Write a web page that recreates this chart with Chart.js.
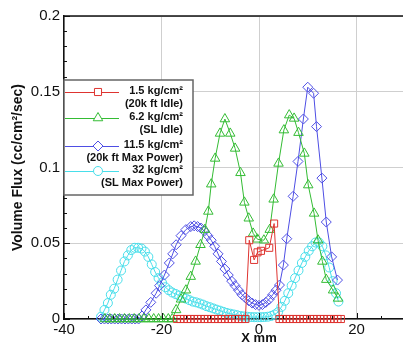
<!DOCTYPE html>
<html lang="en">
<head>
    <meta charset="UTF-8">
    <title>Volume Flux vs X</title>
    <script src="https://cdn.jsdelivr.net/npm/chart.js"></script>
    <style>
        html, body {
            margin: 0;
            padding: 0;
            overflow: hidden;
            background: #fff;
        }
        #flux {
            position: absolute;
            left: 0;
            top: 0;
        }
    </style>
</head>
<body>
    <canvas id="flux" width="470" height="345"></canvas>

    <script>
        // 1.5 kg/cm2 (20k ft Idle)
        const redX = [-16.8, -16.1, -15.4, -14.7, -14.0, -13.3, -12.6, -11.9, -11.2, -10.5, -9.8, -9.1, -8.4, -7.7, -7.0, -6.3, -5.6, -4.9, -4.2, -3.5, -2.8,
            -2.0, -1.0, -0.3, 0.4, 2.1, 3.1,
            4.2, 4.9, 5.6, 6.3, 7.0, 7.7, 8.4, 9.1, 9.8, 10.5, 11.2, 11.9, 12.6, 13.3, 14.0, 14.7, 15.4, 16.1, 16.8];
        const redY = [0, 0, 0, 0, 0, 0, 0, 0, 0, 0, 0, 0, 0, 0, 0, 0, 0, 0, 0, 0, 0,
            0.052, 0.039, 0.044, 0.045, 0.047, 0.063,
            0, 0, 0, 0, 0, 0, 0, 0, 0, 0, 0, 0, 0, 0, 0, 0, 0, 0, 0];

        // 6.2 kg/cm2 (SL Idle)
        const greenX = [-31.6, -30.6, -29.6, -28.6, -27.6, -26.6, -25.6, -24.6, -23.6, -22.6, -21.6, -20.6, -19.6, -18.6, -17.8,
            -17.0, -16.0, -15.0, -14.0, -13.0, -12.0, -11.1, -10.4, -9.8, -9.0, -8.0, -7.0, -5.9, -4.9, -3.8, -3.0, -2.1, -1.2, -0.3,
            1.0, 2.2, 3.0, 4.0, 5.1, 6.2, 7.2, 8.1, 9.3, 10.1, 11.3, 12.1, 13.0, 13.8, 15.2, 16.2];
        const greenY = [0, 0, 0, 0, 0, 0, 0, 0, 0, 0, 0, 0, 0, 0, 0,
            0.006, 0.013, 0.019, 0.028, 0.038, 0.049, 0.059, 0.071, 0.089, 0.106, 0.1225, 0.132, 0.1225, 0.1126, 0.0965, 0.077, 0.0665, 0.0565, 0.0526,
            0.052, 0.059, 0.079, 0.1027, 0.1247, 0.1346, 0.1324, 0.123, 0.1093, 0.0884, 0.0697, 0.052, 0.038, 0.026, 0.019, 0.0136];

        // 11.5 kg/cm2 (20k ft Max Power)
        const blueX = [-32.4, -31.7, -31.0, -30.3, -29.6, -28.9, -28.2, -27.5, -26.8, -26.1, -25.4, -24.7,
            -24.0, -23.2, -22.2, -21.1, -20.4, -19.4, -18.4, -17.7, -17.0, -16.0, -15.0, -14.0, -13.3, -12.6, -11.9, -11.2, -10.5,
            -9.8, -9.1, -8.4, -7.7, -7.0, -6.3, -5.6, -4.9, -4.2, -3.5, -2.8, -2.1, -1.4, -0.7, 0.0, 0.7, 1.4, 2.1, 2.8, 3.5, 4.2,
            5.0, 5.7, 7.0, 8.0, 9.1, 10.0, 11.2, 11.8, 12.9, 13.8, 14.9, 16.1];
        const blueY = [0, 0, 0, 0, 0, 0, 0, 0, 0, 0, 0, 0,
            0.002, 0.006, 0.011, 0.017, 0.022, 0.029, 0.037, 0.043, 0.049, 0.055, 0.059, 0.061, 0.0615, 0.061, 0.06, 0.058, 0.055,
            0.052, 0.048, 0.043, 0.038, 0.033, 0.029, 0.025, 0.022, 0.019, 0.016, 0.014, 0.012, 0.0105, 0.0095, 0.009, 0.0095, 0.011, 0.013, 0.016, 0.019, 0.0224,
            0.0356, 0.053, 0.081, 0.104, 0.132, 0.153, 0.149, 0.127, 0.093, 0.064, 0.041, 0.0257];

        // 32 kg/cm2 (SL Max Power)
        const cyanX = [-32.4, -31.7, -31.0, -30.4, -29.7, -29.0, -28.3, -27.6, -26.9, -26.2, -25.5, -24.8, -24.1, -23.4, -22.7,
            -22.0, -21.3, -20.6, -19.9, -19.2, -18.5, -17.8, -17.1, -16.4, -15.7, -15.0, -14.3, -13.6, -12.9, -12.2, -11.5,
            -10.8, -10.1, -9.4, -8.7, -8.0, -7.3, -6.6, -5.9, -5.2, -4.5, -3.8, -3.1, -2.4, -1.7, -1.0, -0.3, 0.4, 1.1, 1.8,
            2.5, 3.2, 3.9, 4.6, 5.3, 6.0, 6.7, 7.4, 8.1, 8.8, 9.5, 10.2, 10.9, 11.6, 12.3, 13.0, 13.7, 14.4, 15.1, 15.8, 16.3];
        const cyanY = [0.0015, 0.006, 0.0105, 0.016, 0.02, 0.026, 0.032, 0.038, 0.042, 0.0455, 0.047, 0.047, 0.0465, 0.0445, 0.041,
            0.036, 0.031, 0.027, 0.024, 0.021, 0.019, 0.0175, 0.0165, 0.0155, 0.0145, 0.0135, 0.0125, 0.0115, 0.011, 0.0103, 0.0095,
            0.0085, 0.0078, 0.007, 0.0062, 0.0055, 0.0047, 0.004, 0.0035, 0.003, 0.0025, 0.002, 0.0017, 0.0015, 0.0013, 0.0012, 0.0012, 0.0012, 0.0013, 0.0015,
            0.002, 0.003, 0.0045, 0.008, 0.012, 0.017, 0.022, 0.027, 0.032, 0.037, 0.041, 0.045, 0.048, 0.0505, 0.0505, 0.048, 0.042, 0.034, 0.025, 0.017, 0.0115];

        const xTicks = [-40, -20, 0, 20, 40];
        const yTicks = [0, 0.05, 0.1, 0.15, 0.2];

        const series = [
            { label: ['1.5 kg/cm\u00B2', '(20k ft Idle)'], xs: redX, ys: redY, color: 'rgb(222, 52, 48)', style: 'rect', radius: 5 },
            { label: ['6.2 kg/cm\u00B2', '(SL Idle)'], xs: greenX, ys: greenY, color: 'rgb(52, 188, 52)', style: 'triangle', radius: 5.5 },
            { label: ['11.5 kg/cm\u00B2', '(20k ft Max Power)'], xs: blueX, ys: blueY, color: 'rgb(78, 78, 228)', style: 'rectRot', radius: 5 },
            { label: ['32 kg/cm\u00B2', '(SL Max Power)'], xs: cyanX, ys: cyanY, color: 'rgb(72, 222, 234)', style: 'circle', radius: 4.5 }
        ];

        const FONT = '"Liberation Sans", Arial, sans-serif';

        // border, inward ticks and the boxed legend
        const framePlugin = {
            id: 'frame',
            afterDatasetsDraw(chart) {
                const { ctx, chartArea: a, scales } = chart;
                ctx.save();
                ctx.strokeStyle = '#111';
                ctx.lineWidth = 1.5;
                ctx.beginPath();
                ctx.moveTo(a.left, a.top);
                ctx.lineTo(a.right, a.top);
                ctx.stroke();

                ctx.lineWidth = 1;
                for (let v = 0; v <= 20; v++) {
                    const y = Math.round(scales.y.getPixelForValue(v / 100)) + 0.5;
                    const len = v % 5 === 0 ? 6 : 3;
                    ctx.beginPath();
                    ctx.moveTo(a.left, y);
                    ctx.lineTo(a.left + len, y);
                    ctx.stroke();
                }
                for (let v = -40; v <= 40; v += 5) {
                    const x = Math.round(scales.x.getPixelForValue(v)) + 0.5;
                    const len = v % 20 === 0 ? 6 : 3;
                    ctx.beginPath();
                    ctx.moveTo(x, a.bottom);
                    ctx.lineTo(x, a.bottom - len);
                    ctx.stroke();
                }

                // legend
                const box = { x: a.left, y: 80, w: 129, h: 115 };
                ctx.fillStyle = '#fff';
                ctx.fillRect(box.x, box.y, box.w, box.h);
                ctx.strokeStyle = '#666';
                ctx.lineWidth = 1.5;
                ctx.strokeRect(box.x, box.y, box.w, box.h);

                const rows = [92, 118, 146, 171];
                ctx.textAlign = 'right';
                ctx.textBaseline = 'middle';
                series.forEach((s, i) => {
                    const y = rows[i];
                    ctx.strokeStyle = s.color;
                    ctx.lineWidth = 1;
                    ctx.beginPath();
                    ctx.moveTo(box.x + 1, y + 0.5);
                    ctx.lineTo(box.x + 55, y + 0.5);
                    ctx.stroke();
                    ctx.fillStyle = '#fff';
                    Chart.helpers.drawPoint(ctx, {
                        pointStyle: s.style,
                        radius: s.radius,
                        rotation: 0,
                        borderWidth: 1
                    }, box.x + 34, y);
                    ctx.fillStyle = '#111';
                    ctx.font = 'bold 11px ' + FONT;
                    ctx.fillText(s.label[0], box.x + 119, y - 1);
                    ctx.fillText(s.label[1], box.x + 119, y + 12);
                });
                ctx.restore();
            }
        };

        const ctx = document.getElementById('flux').getContext('2d');
        new Chart(ctx, {
            type: 'scatter',
            data: {
                datasets: series.map(s => ({
                    label: s.label.join(' '),
                    data: s.xs.map((x, i) => ({ x: x, y: s.ys[i] })),
                    showLine: true,
                    borderColor: s.color,
                    backgroundColor: 'rgba(0,0,0,0)',
                    borderWidth: 1,
                    pointStyle: s.style,
                    pointRadius: s.radius,
                    pointBorderColor: s.color,
                    pointBackgroundColor: 'rgba(0,0,0,0)',
                    pointBorderWidth: 1,
                    clip: false
                }))
            },
            options: {
                responsive: false,
                animation: false,
                layout: { padding: { top: 16, right: 16, left: 0, bottom: 0 } },
                plugins: {
                    legend: { display: false },
                    tooltip: { enabled: false }
                },
                scales: {
                    x: {
                        type: 'linear',
                        min: -40,
                        max: 40,
                        afterFit: s => { s.height = 26; },
                        afterBuildTicks: s => { s.ticks = xTicks.map(v => ({ value: v })); },
                        ticks: {
                            color: '#111',
                            padding: 2,
                            maxRotation: 0,
                            font: { family: FONT, size: 15 },
                            callback: v => String(v)
                        },
                        grid: {
                            color: '#cfcfcf',
                            lineWidth: 1,
                            drawTicks: false
                        },
                        border: { color: '#111', width: 1.5 },
                        title: {
                            display: true,
                            text: 'X mm',
                            color: '#111',
                            padding: { top: 0, bottom: -1 },
                            font: { family: FONT, size: 13, weight: 'bold' }
                        }
                    },
                    y: {
                        min: 0,
                        max: 0.2,
                        afterFit: s => { s.width = 64; },
                        afterBuildTicks: s => { s.ticks = yTicks.map(v => ({ value: v })); },
                        ticks: {
                            color: '#111',
                            padding: 4,
                            font: { family: FONT, size: 15 },
                            callback: v => String(v)
                        },
                        grid: {
                            color: '#cfcfcf',
                            lineWidth: 1,
                            drawTicks: false
                        },
                        border: { color: '#111', width: 1.5 },
                        title: {
                            display: true,
                            text: 'Volume Flux (cc/cm\u00B2/sec)',
                            color: '#111',
                            padding: { top: 10, bottom: 0 },
                            font: { family: FONT, size: 14, weight: 'bold' }
                        }
                    }
                }
            },
            plugins: [framePlugin]
        });
    </script>
</body>
</html>
